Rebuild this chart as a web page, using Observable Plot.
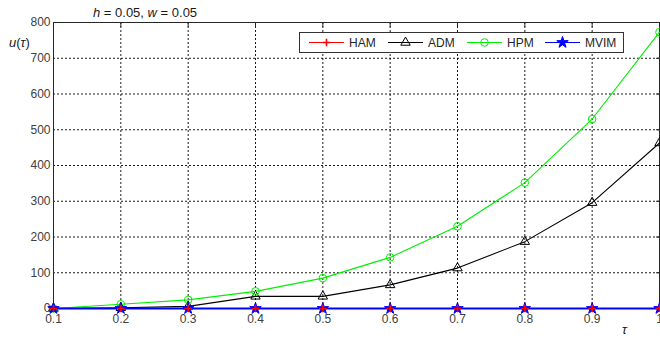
<!DOCTYPE html>
<html><head><meta charset="utf-8">
<script src="https://cdn.jsdelivr.net/npm/d3@7"></script>
<script src="https://cdn.jsdelivr.net/npm/@observablehq/plot@0.6"></script>
<style>
body{margin:0;background:#fff;}
#wrap{position:relative;width:660px;height:338px;font-family:Arial,"Liberation Sans",sans-serif;overflow:hidden;}
.abs{position:absolute;white-space:nowrap;color:#1a1a1a;}
#legend{position:absolute;left:299px;top:32px;width:325px;height:21px;border:1px solid #333;background:#fff;box-sizing:border-box;}
#legend .item{position:absolute;top:0;height:19px;display:flex;align-items:center;font-size:12px;color:#262626;}
</style></head><body><div id="wrap"></div>
<script>
// ---- data ----
const tau  = [0.1, 0.2, 0.3, 0.4, 0.5, 0.6, 0.7, 0.8, 0.9, 1.0];
const ham  = [0, 0, 0, 0, 0, 0, 0, 0, 0, 0];
const adm  = [0, 2, 6, 34, 34, 66, 113, 187, 296, 463];
const hpm  = [0, 12, 24, 48, 85, 143, 230, 352, 530, 773];
const mvim = [0, 0, 0, 0, 0, 0, 0, 0, 0, 0];
const xTicks = [0.1, 0.2, 0.3, 0.4, 0.5, 0.6, 0.7, 0.8, 0.9, 1.0];
const yTicks = [0, 100, 200, 300, 400, 500, 600, 700, 800];
const seriesNames   = ["HAM", "ADM", "HPM", "MVIM"];
const seriesValues  = [ham, adm, hpm, mvim];
const seriesColors  = ["#ff0000", "#000000", "#00ee00", "#0000ff"];
const seriesSymbols = ["plus", "triangle", "circle", "star"];
const seriesFills   = ["none", "none", "none", "#0000ff"];
const seriesR       = [2.6, 3.5, 3.8, 3.6];
const seriesLineW   = [1.1, 1.1, 1.1, 2];

const rows = [];
seriesNames.forEach((name, i) => {
  seriesValues[i].forEach((v, j) => rows.push({series: name, tau: tau[j], value: v}));
});

const wrap = document.getElementById("wrap");
const font = 'Arial, "Liberation Sans", sans-serif';

const lineMarks = seriesNames.map((name, i) =>
  Plot.line(rows.filter(r => r.series === name), {x: "tau", y: "value", stroke: seriesColors[i], strokeWidth: seriesLineW[i]}));
const dotMarks = seriesNames.map((name, i) =>
  Plot.dot(rows.filter(r => r.series === name), {x: "tau", y: "value", stroke: seriesColors[i], fill: seriesFills[i],
    symbol: seriesSymbols[i], r: seriesR[i], strokeWidth: name === "HAM" ? 1.6 : 1}));

const chart = Plot.plot({
  width: 660, height: 338,
  marginLeft: 53, marginRight: 1, marginTop: 22, marginBottom: 30,
  style: {fontFamily: font, fontSize: "12px", color: "#404040", background: "#fff", overflow: "visible"},
  x: {domain: [0.1, 1.0], label: null},
  y: {domain: [0, 800], label: null},
  marks: [
    Plot.gridX(xTicks, {stroke: "#000", strokeOpacity: 0.9, strokeDasharray: "2,2"}),
    Plot.gridY(yTicks, {stroke: "#000", strokeOpacity: 0.9, strokeDasharray: "2,2"}),
    Plot.axisX(xTicks, {anchor: "bottom", tickSize: 0, tickPadding: 6,
      tickFormat: d => d === 1 ? "1" : d3.format(".1f")(d), fill: "#404040"}),
    Plot.axisX(xTicks, {anchor: "top", tickSize: -4, tickFormat: () => "", stroke: "#262626"}),
    Plot.axisY(yTicks, {anchor: "left", tickSize: 0, tickPadding: 3, fill: "#404040"}),
    Plot.axisY(yTicks, {anchor: "right", tickSize: -4, tickFormat: () => "", stroke: "#262626"}),
    Plot.frame({stroke: "#262626"}),
    lineMarks[1], dotMarks[1], lineMarks[2], dotMarks[2],
    lineMarks[0], lineMarks[3], dotMarks[3], dotMarks[0]
  ]
});
wrap.appendChild(chart);

// title
const title = document.createElement("div");
title.className = "abs";
title.style.cssText = "left:93px;top:5px;font-size:13px;";
title.innerHTML = "<i>h</i> = 0.05, <i>w</i> = 0.05";
wrap.appendChild(title);

// y label
const ylab = document.createElement("div");
ylab.className = "abs";
ylab.style.cssText = "left:9px;top:35px;font-size:13px;";
ylab.innerHTML = "<i>u</i>(<i>τ</i>)";
wrap.appendChild(ylab);

// x label
const xlab = document.createElement("div");
xlab.className = "abs";
xlab.style.cssText = "left:622px;top:322px;font-size:13px;";
xlab.innerHTML = "<i>τ</i>";
wrap.appendChild(xlab);

// legend
const legend = document.createElement("div");
legend.id = "legend";
const itemLefts = [8, 87, 166, 244];
const symMap = {plus: d3.symbolPlus, triangle: d3.symbolTriangle, circle: d3.symbolCircle, star: d3.symbolStar};
seriesNames.forEach((name, i) => {
  const item = document.createElement("div");
  item.className = "item";
  item.style.left = itemLefts[i] + "px";
  const svg = d3.create("svg").attr("width", 41).attr("height", 19);
  svg.append("line").attr("x1", 1).attr("x2", 36).attr("y1", 9.5).attr("y2", 9.5)
    .attr("stroke", seriesColors[i]).attr("stroke-width", 1.1);
  const r = seriesR[i];
  svg.append("path").attr("transform", "translate(18.5,9.5)")
    .attr("d", d3.symbol(symMap[seriesSymbols[i]], Math.PI * r * r)())
    .attr("fill", seriesFills[i]).attr("stroke", seriesColors[i])
    .attr("stroke-width", name === "HAM" ? 1.6 : 1);
  item.appendChild(svg.node());
  const t = document.createElement("span");
  t.textContent = name;
  item.appendChild(t);
  legend.appendChild(item);
});
wrap.appendChild(legend);
</script>
</body></html>
